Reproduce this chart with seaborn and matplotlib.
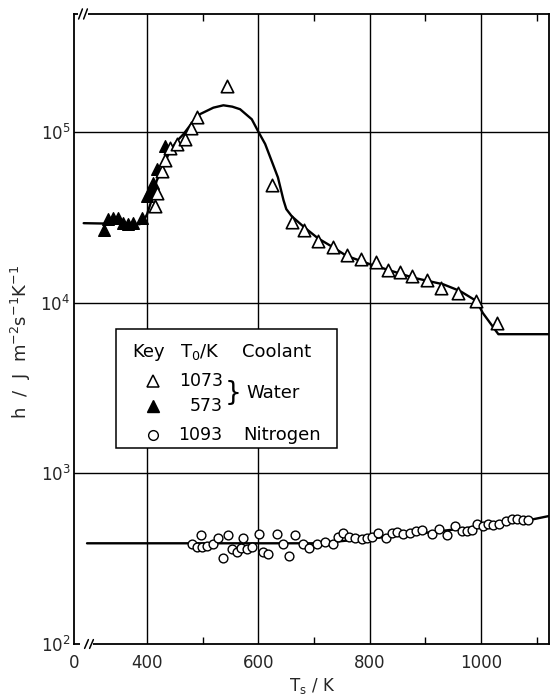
import numpy as np
import pandas as pd
import matplotlib
matplotlib.use("Agg")
import matplotlib.pyplot as plt
import seaborn as sns
from matplotlib.ticker import FixedLocator, FixedFormatter, NullLocator
from matplotlib.patches import Rectangle
from matplotlib.lines import Line2D

# ---------------- data ----------------
# Water quench, T0 = 1073 K (open triangles)
water1073_T = [413.8, 416.9, 425.9, 431.8, 440.8, 452.8, 467.7, 478.5, 488.8,
               542.7, 623.5, 659.5, 682.2, 707.4, 733.2, 759.5, 783.5, 810.4,
               833.1, 854.1, 876.3, 902.0, 927.8, 958.9, 990.7, 1027.9]
water1073_h = [36800, 44000, 59200, 68200, 80900, 84800, 90600, 106000, 122000,
               186000, 48700, 29700, 26500, 23000, 21200, 19000, 18000, 17400,
               15600, 15100, 14300, 13500, 12200, 11400, 10200, 7640]

# Water quench, T0 = 573 K (filled triangles)
water573_T = [322.7, 329.9, 338.9, 347.9, 356.9, 365.9, 374.8, 389.9, 398.9,
              404.9, 410.8, 416.9, 431.8]
water573_h = [26500, 30800, 31500, 31200, 29400, 28800, 29400, 31500, 42200,
              45100, 50500, 60400, 82800]

# Nitrogen quench, T0 = 1093 K (open circles)
nitrogen_T = [479.8, 488.8, 496.5, 497.8, 506.8, 518.6, 527.6, 535.5, 544.5,
              551.7, 560.7, 568.4, 572.5, 578.6, 587.6, 601.3, 608.5, 617.5,
              632.5, 643.3, 655.2, 665.4, 680.4, 691.1, 704.4, 719.3, 733.2,
              743.3, 752.2, 763.0, 773.3, 785.8, 794.3, 803.3, 815.2, 829.0,
              839.2, 849.3, 860.1, 872.1, 882.9, 893.1, 911.1, 924.8, 939.1,
              952.9, 965.0, 974.0, 983.0, 993.0, 1002.8, 1012.9, 1021.8, 1032.6,
              1044.6, 1054.9, 1065.0, 1074.6, 1084.7]
nitrogen_h = [384, 372, 435, 372, 375, 384, 420, 321, 435,
              359, 348, 364, 416, 359, 370, 439, 348, 335,
              443, 384, 328, 435, 387, 367, 384, 397, 387,
              424, 449, 424, 416, 410, 416, 425, 445, 420,
              449, 453, 439, 449, 459, 465, 439, 470, 434,
              491, 459, 459, 465, 502, 491, 502, 496, 502,
              526, 537, 537, 532, 532]

# Fitted curves (solid lines)
water_curve_T = [286, 387, 393, 400, 408, 417, 429, 441, 453, 465, 480, 495, 519,
                 537, 553, 567, 588, 600, 612, 626, 635, 645, 650, 660, 683, 707,
                 734, 758, 800, 840, 878, 932, 962, 992, 1003, 1031, 1122]
water_curve_h = [29200, 28800, 29900, 33000, 39800, 51600, 63100, 77400, 88100,
                 96800, 112200, 127100, 138700, 143200, 140600, 135800, 118600,
                 100000, 85000, 64600, 54100, 39800, 35300, 32000, 27500, 23800,
                 21100, 18800, 16800, 15300, 14000, 12800, 11700, 10200, 8700,
                 6530, 6530]
nitrogen_curve_T = [292, 700, 740, 800, 850, 900, 950, 1000, 1050, 1090, 1122]
nitrogen_curve_h = [389, 389, 398, 415, 430, 448, 468, 488, 512, 535, 562]

# axes / ticks
x_tick_pos = [269.5, 400, 600, 800, 1000]
x_tick_labels = ["0", "400", "600", "800", "1000"]
x_minor_pos = [500, 700, 900, 1100]
y_tick_pos = [1e2, 1e3, 1e4, 1e5]
y_tick_labels = ["10$^\\mathregular{2}$", "10$^\\mathregular{3}$",
                 "10$^\\mathregular{4}$", "10$^\\mathregular{5}$"]
grid_T = [400, 600, 800, 1000]
grid_h = [1e3, 1e4, 1e5]

# ---------------- plotting ----------------
sns.set_style("ticks")
plt.rcParams["font.family"] = ["DejaVu Sans"]
plt.rcParams["mathtext.fontset"] = "dejavusans"

fig = plt.figure(figsize=(5.51, 6.95), dpi=100)
ax = fig.add_axes([0.1352, 0.0734, 0.8612, 0.9065])
ax.set_yscale("log")
ax.set_xlim(269.5, 1122)
ax.set_ylim(100, 10 ** 5.691)

for v in grid_T:
    ax.axvline(v, color="black", lw=1.0, zorder=1)
for v in grid_h:
    ax.axhline(v, color="black", lw=1.0, zorder=1)

sns.lineplot(x=water_curve_T, y=water_curve_h, ax=ax, color="black", lw=1.7,
             sort=False, estimator=None, zorder=2)
sns.lineplot(x=nitrogen_curve_T, y=nitrogen_curve_h, ax=ax, color="black", lw=1.7,
             sort=False, estimator=None, zorder=2)

sns.scatterplot(x=water573_T, y=water573_h, ax=ax, marker="^", s=70,
                facecolor="black", edgecolor="black", linewidth=1.0, zorder=3)
sns.scatterplot(x=water1073_T, y=water1073_h, ax=ax, marker="^", s=80,
                facecolor="white", edgecolor="black", linewidth=1.2, zorder=4)
sns.scatterplot(x=nitrogen_T, y=nitrogen_h, ax=ax, marker="o", s=40,
                facecolor="white", edgecolor="black", linewidth=1.0, zorder=4)

ax.set_xlabel("T$_\\mathregular{s}$ / K", fontsize=12, labelpad=3)
ax.set_ylabel("h  /  J  m$^\\mathregular{-2}$s$^\\mathregular{-1}$K$^\\mathregular{-1}$",
              fontsize=13)
ax.yaxis.set_label_coords(-0.088, 0.48)

ax.xaxis.set_major_locator(FixedLocator(x_tick_pos))
ax.xaxis.set_major_formatter(FixedFormatter(x_tick_labels))
ax.xaxis.set_minor_locator(FixedLocator(x_minor_pos))
ax.yaxis.set_major_locator(FixedLocator(y_tick_pos))
ax.yaxis.set_major_formatter(FixedFormatter(y_tick_labels))
ax.yaxis.set_minor_locator(NullLocator())
ax.tick_params(axis="x", which="major", length=0, pad=7, labelsize=12)
ax.tick_params(axis="y", which="major", length=0, pad=3, labelsize=12)
ax.tick_params(axis="x", which="minor", direction="in", length=5, width=1.0,
               top=True, bottom=True, color="black")

for sp in ax.spines.values():
    sp.set_visible(True)
    sp.set_linewidth(1.3)
    sp.set_color("black")

# axis break marks
def brk(y, x0, x1, marks, h):
    ax.plot([x0, x1], [y, y], transform=ax.transAxes, color="white", lw=3,
            clip_on=False, zorder=8, solid_capstyle="butt")
    for m in marks:
        ax.plot([m - 0.004, m + 0.004], [y - h, y + h], transform=ax.transAxes,
                color="black", lw=1.1, clip_on=False, zorder=9)

brk(1.0, 0.0074, 0.0285, [0.0127, 0.0232], 0.008)
brk(0.0, 0.0116, 0.039, [0.0253, 0.0358], 0.007)

# legend box
ax.add_patch(Rectangle((0.0875, 0.3106), 0.4651, 0.1889, transform=ax.transAxes,
                       facecolor="white", edgecolor="black", lw=1.1, zorder=6))
tk = dict(transform=ax.transAxes, zorder=7, color="black")
ax.text(0.1212, 0.464, "Key", fontsize=13, va="center", ha="left", **tk)
ax.text(0.2223, 0.464, "T$_\\mathregular{0}$/K", fontsize=13, va="center", ha="left", **tk)
ax.text(0.3524, 0.464, "Coolant", fontsize=13, va="center", ha="left", **tk)
ax.text(0.3123, 0.4175, "1073", fontsize=12.5, va="center", ha="right", **tk)
ax.text(0.3123, 0.3778, "573", fontsize=12.5, va="center", ha="right", **tk)
ax.text(0.3123, 0.3317, "1093", fontsize=12.5, va="center", ha="right", **tk)
ax.text(0.334, 0.399, "}", fontsize=19, va="center", ha="center", **tk)
ax.text(0.3629, 0.398, "Water", fontsize=13, va="center", ha="left", **tk)
ax.text(0.355, 0.3317, "Nitrogen", fontsize=13, va="center", ha="left", **tk)
ax.add_line(Line2D([0.166], [0.4175], transform=ax.transAxes, marker="^", ms=8,
                   mfc="white", mec="black", mew=1.1, ls="none", zorder=7))
ax.add_line(Line2D([0.166], [0.3778], transform=ax.transAxes, marker="^", ms=8,
                   mfc="black", mec="black", mew=1.0, ls="none", zorder=7))
ax.add_line(Line2D([0.166], [0.3317], transform=ax.transAxes, marker="o", ms=7,
                   mfc="white", mec="black", mew=1.0, ls="none", zorder=7))

fig.savefig("out.png", dpi=100)
